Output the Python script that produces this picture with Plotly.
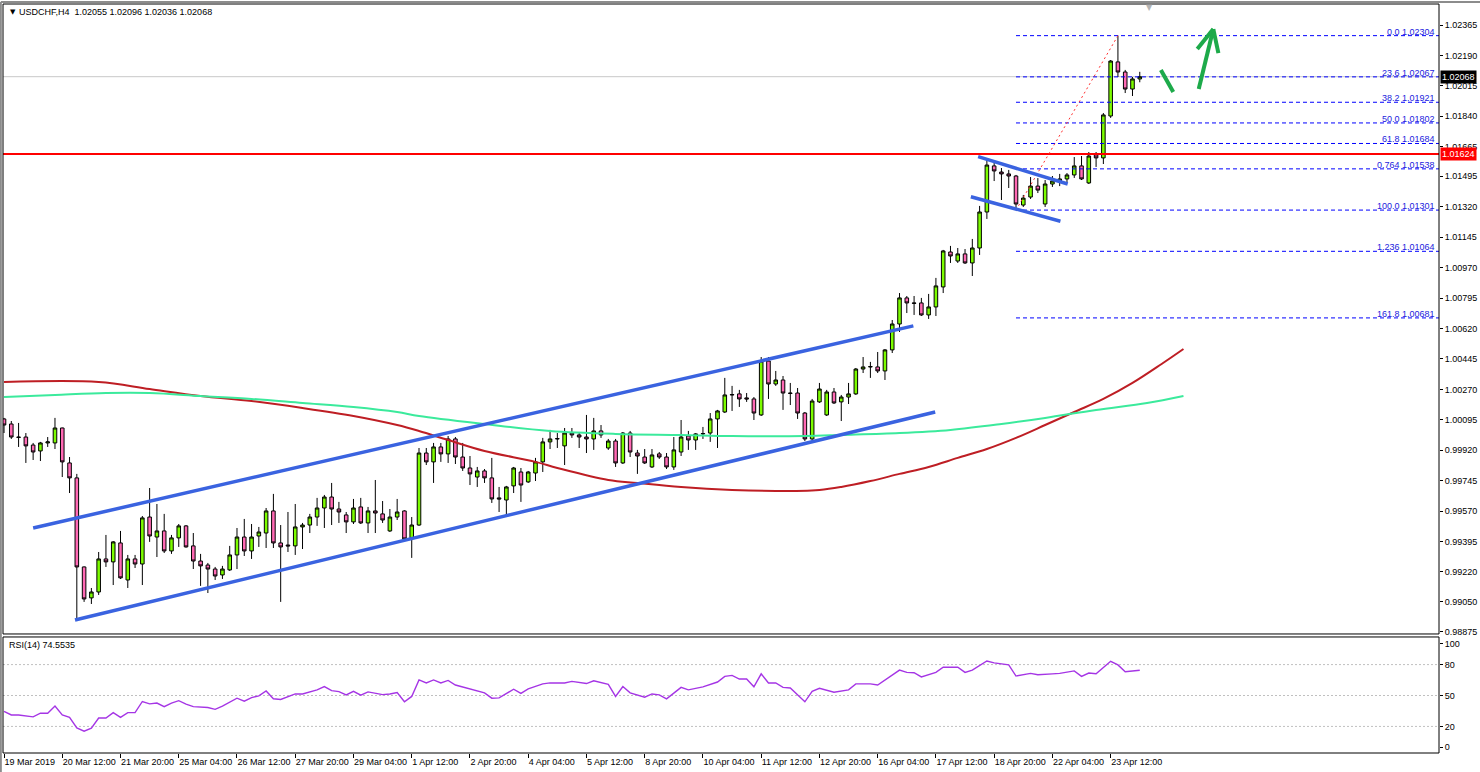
import plotly.graph_objects as go

# ---------------- data ----------------
bars = list(range(157))
open_ = [1.00100,1.00071,0.99996,0.99996,0.99950,0.99916,0.99962,0.99962,1.00048,0.99847,
         0.99761,0.99249,0.99071,0.99105,0.99295,0.99278,0.99387,0.99174,0.99295,0.99266,
         0.99536,0.99421,0.99456,0.99341,0.99416,0.99485,0.99370,0.99283,0.99260,0.99237,
         0.99203,0.99232,0.99318,0.99421,0.99341,0.99427,0.99444,0.99571,0.99387,0.99375,
         0.99370,0.99479,0.99490,0.99536,0.99588,0.99651,0.99582,0.99548,0.99508,0.99594,
         0.99502,0.99571,0.99554,0.99456,0.99536,0.99571,0.99416,0.99490,0.99904,0.99853,
         0.99939,0.99899,0.99985,0.99881,0.99818,0.99766,0.99801,0.99761,0.99646,0.99634,
         0.99715,0.99795,0.99738,0.99789,0.99853,0.99968,0.99985,0.99945,1.00019,1.00008,
         0.99996,0.99985,1.00031,0.99933,0.99973,0.99847,1.00019,0.99904,0.99881,0.99824,
         0.99899,0.99881,0.99824,0.99910,1.00002,0.99979,1.00014,1.00019,1.00100,1.00140,
         1.00238,1.00244,1.00221,1.00215,1.00123,1.00433,1.00301,1.00324,1.00249,1.00249,
         1.00134,0.99985,1.00198,1.00123,1.00255,1.00198,1.00226,1.00244,1.00387,1.00399,
         1.00399,1.00376,1.00497,1.00646,1.00796,1.00767,1.00767,1.00698,1.00744,1.00859,
         1.01060,1.01008,1.01049,1.00997,1.01083,1.01290,1.01555,1.01520,1.01509,1.01497,
         1.01330,1.01376,1.01439,1.01336,1.01451,1.01468,1.01480,1.01503,1.01555,1.01457,
         1.01618,1.01601,1.01842,1.02153,1.02095,1.01997,1.02055]
high = [1.00106,1.00088,1.00077,1.00019,0.99962,0.99968,0.99996,1.00106,1.00050,0.99881,
        0.99784,0.99252,0.99128,0.99335,0.99433,0.99398,0.99456,0.99318,0.99318,0.99542,
        0.99703,0.99611,0.99554,0.99433,0.99496,0.99490,0.99444,0.99324,0.99272,0.99249,
        0.99255,0.99370,0.99473,0.99525,0.99496,0.99479,0.99588,0.99669,0.99490,0.99565,
        0.99611,0.99502,0.99554,0.99646,0.99663,0.99732,0.99623,0.99565,0.99640,0.99646,
        0.99594,0.99749,0.99628,0.99582,0.99640,0.99575,0.99536,0.99933,0.99933,0.99962,
        0.99962,1.00002,0.99996,0.99962,0.99887,0.99824,0.99812,0.99876,0.99709,0.99715,
        0.99824,0.99818,0.99801,0.99876,0.99991,1.00037,1.00019,1.00048,1.00048,1.00025,
        1.00123,1.00106,1.00065,0.99985,0.99985,1.00025,1.00031,0.99922,0.99927,0.99927,
        0.99910,0.99904,0.99996,1.00094,1.00031,1.00019,1.00054,1.00134,1.00152,1.00336,
        1.00290,1.00267,1.00249,1.00226,1.00456,1.00456,1.00376,1.00347,1.00307,1.00278,
        1.00140,1.00215,1.00307,1.00267,1.00278,1.00238,1.00307,1.00393,1.00456,1.00428,
        1.00485,1.00502,1.00669,1.00824,1.00807,1.00807,1.00796,1.00819,1.00911,1.01072,
        1.01095,1.01083,1.01077,1.01135,1.01325,1.01595,1.01589,1.01543,1.01532,1.01503,
        1.01388,1.01491,1.01485,1.01474,1.01497,1.01509,1.01514,1.01606,1.01612,1.01635,
        1.01635,1.01859,1.02164,1.02304,1.02107,1.02066,1.02096]
low = [1.00019,0.99985,0.99939,0.99847,0.99864,0.99858,0.99939,0.99927,0.99766,0.99674,
       0.98944,0.99048,0.99036,0.99088,0.99249,0.99145,0.99180,0.99128,0.99243,0.99145,
       0.99393,0.99306,0.99329,0.99324,0.99364,0.99360,0.99237,0.99140,0.99099,0.99174,
       0.99180,0.99226,0.99237,0.99312,0.99295,0.99364,0.99358,0.99358,0.99048,0.99335,
       0.99318,0.99352,0.99444,0.99485,0.99473,0.99490,0.99502,0.99444,0.99496,0.99496,
       0.99444,0.99444,0.99502,0.99450,0.99519,0.99404,0.99301,0.99485,0.99835,0.99732,
       0.99853,0.99847,0.99841,0.99801,0.99720,0.99709,0.99732,0.99617,0.99565,0.99548,
       0.99674,0.99623,0.99732,0.99743,0.99795,0.99927,0.99933,0.99835,0.99991,0.99933,
       0.99904,0.99922,0.99991,0.99922,0.99824,0.99841,0.99881,0.99784,0.99841,0.99818,
       0.99870,0.99812,0.99807,0.99887,0.99922,0.99922,0.99985,0.99968,0.99933,1.00134,
       1.00146,1.00169,1.00198,1.00094,1.00117,1.00215,1.00290,1.00152,1.00180,1.00100,
       0.99973,0.99979,1.00192,1.00117,1.00186,1.00088,1.00186,1.00238,1.00364,1.00336,
       1.00364,1.00324,1.00479,1.00600,1.00709,1.00698,1.00692,1.00675,1.00692,1.00824,
       1.00997,1.00997,1.00991,1.00922,1.01043,1.01250,1.01468,1.01359,1.01428,1.01301,
       1.01319,1.01365,1.01399,1.01319,1.01434,1.01439,1.01457,1.01486,1.01474,1.01451,
       1.01549,1.01566,1.01831,1.02066,1.01974,1.01957,1.02036]
close = [1.00065,0.99996,0.99994,0.99945,0.99910,0.99962,0.99968,1.00048,0.99853,0.99761,
         0.99249,0.99065,0.99105,0.99295,0.99278,0.99393,0.99186,0.99295,0.99266,0.99531,
         0.99427,0.99456,0.99341,0.99416,0.99485,0.99364,0.99283,0.99255,0.99237,0.99197,
         0.99237,0.99318,0.99421,0.99341,0.99421,0.99450,0.99571,0.99387,0.99364,0.99370,
         0.99479,0.99490,0.99536,0.99588,0.99651,0.99582,0.99565,0.99508,0.99588,0.99502,
         0.99571,0.99559,0.99519,0.99536,0.99565,0.99410,0.99490,0.99904,0.99853,0.99939,
         0.99899,0.99985,0.99881,0.99818,0.99784,0.99801,0.99761,0.99640,0.99640,0.99709,
         0.99818,0.99720,0.99795,0.99853,0.99968,0.99985,0.99987,1.00019,1.00008,0.99996,
         0.99985,1.00031,1.00008,0.99973,0.99847,1.00019,0.99910,0.99887,0.99847,0.99893,
         0.99881,0.99824,0.99922,0.99996,0.99979,1.00014,1.00016,1.00100,1.00146,1.00238,
         1.00240,1.00215,1.00215,1.00134,1.00433,1.00301,1.00324,1.00249,1.00247,1.00134,
         0.99985,1.00203,1.00272,1.00255,1.00192,1.00226,1.00244,1.00387,1.00399,1.00401,
         1.00376,1.00497,1.00646,1.00796,1.00767,1.00765,1.00698,1.00744,1.00865,1.01066,
         1.01037,1.01049,1.00997,1.01083,1.01290,1.01560,1.01526,1.01509,1.01497,1.01336,
         1.01370,1.01439,1.01416,1.01451,1.01468,1.01480,1.01503,1.01555,1.01480,1.01612,
         1.01601,1.01848,1.02158,1.02095,1.01997,1.02055,1.02068]

red_ma_bar = [0,13,20,27,34,41,48,54,57,61,66,73,76,83,87,93,100,106,112,115,119,123,127,
              131,135,139,143,147,151,155,159,162]
red_ma = [1.00313,1.00313,1.00272,1.00232,1.00203,1.00163,1.00117,1.00065,1.00031,0.99979,
          0.99916,0.99853,0.99818,0.99749,0.99732,0.99709,0.99692,0.99686,0.99692,0.99709,
          0.99743,0.99784,0.99824,0.99876,0.99927,0.99991,1.00065,1.00140,1.00215,1.00307,
          1.00416,1.00502]
green_ma_bar = [0,7,14,20,27,34,41,48,54,57,66,75,84,93,100,110,115,123,130,137,143,150,157,162]
green_ma = [1.00226,1.00238,1.00249,1.00249,1.00232,1.00215,1.00192,1.00169,1.00140,1.00117,
            1.00071,1.00031,1.00014,1.00008,1.00002,1.00002,1.00008,1.00019,1.00037,1.00071,
            1.00106,1.00152,1.00192,1.00232]

rsi_bar = [0,1,2,4,5,6,7,8,9,10,11,12,13,14,15,16,17,18,19,20,21,22,23,24,25,26,28,29,30,32,
           33,34,35,36,37,38,40,41,43,44,45,46,47,48,49,50,52,53,54,55,56,57,58,59,60,61,62,
           64,65,66,67,68,70,71,72,74,75,77,78,79,80,81,82,83,84,85,86,88,89,90,91,93,94,96,
           98,99,100,101,102,103,104,105,106,107,108,110,111,112,114,116,117,119,120,123,124,
           125,126,128,129,130,131,132,133,135,136,138,139,141,142,144,145,147,148,149,150,
           152,153,154,155,156]
rsi = [34.6,31.1,31.1,29.3,32.8,32.8,39.8,31.1,28.8,18.6,15.4,18.3,28.2,28.2,33.4,28.8,33.4,
       33.4,44.2,41.9,42.7,39.2,42.7,45.0,41.6,39.2,38.4,36.6,39.8,47.4,44.5,48.0,49.7,54.4,
       46.8,46.2,51.5,51.5,55.5,58.7,54.7,53.8,50.6,54.1,50.3,53.5,50.9,51.5,52.9,43.9,49.1,
       65.1,62.2,65.1,62.2,64.6,60.2,56.4,55.2,52.6,47.4,47.7,56.1,52.0,56.4,61.3,62.2,62.2,
       63.7,62.8,61.6,64.3,62.2,60.8,49.1,58.7,52.6,48.3,51.5,50.6,46.8,57.9,55.5,58.4,63.1,
       68.6,69.5,66.0,66.0,58.4,71.0,62.2,62.2,57.9,57.3,43.9,54.1,57.0,53.2,55.5,61.3,61.3,
       60.2,74.7,72.4,72.1,68.0,72.4,77.4,77.4,77.4,72.4,74.7,83.5,81.7,79.7,68.9,71.5,70.1,
       71.0,71.5,73.9,68.6,71.8,71.2,83.2,79.7,73.0,73.9,74.5535]

tick_bars = [0,8,16,24,32,40,48,56,64,72,80,88,96,104,112,120,128,136,144,152]
tick_text = ["19 Mar 2019","20 Mar 12:00","21 Mar 20:00","25 Mar 04:00","26 Mar 12:00",
             "27 Mar 20:00","29 Mar 04:00","1 Apr 12:00","2 Apr 20:00","4 Apr 04:00",
             "5 Apr 12:00","8 Apr 20:00","10 Apr 04:00","11 Apr 12:00","12 Apr 20:00",
             "16 Apr 04:00","17 Apr 12:00","18 Apr 20:00","22 Apr 04:00","23 Apr 12:00"]
price_ticks = [1.02365,1.02190,1.02015,1.01840,1.01665,1.01495,1.01320,1.01145,1.00970,
               1.00795,1.00620,1.00445,1.00270,1.00095,0.99920,0.99745,0.99570,0.99395,
               0.99220,0.99050,0.98875]
rsi_ticks = [0,20,50,80,100]
rsi_levels = [20,50,80]

fib_names = ["0.0","23.6","38.2","50.0","61.8","0.764","100.0","1.236","161.8"]
fib_values = [1.02304,1.02067,1.01921,1.01802,1.01684,1.01538,1.01301,1.01064,1.00681]
fib_start_bar = 139
fib_anchor_bars = [139,153]
fib_anchor_prices = [1.01301,1.02304]

resistance = 1.01624
last_price = 1.02068
header = "USDCHF,H4  1.02055 1.02096 1.02036 1.02068"
rsi_header = "RSI(14) 74.5535"

# channel and flag trend lines: (bar0, price0, bar1, price1)
channel_lower = (9.75, 0.98944, 127.9, 1.00140)
channel_upper = (4.0, 0.99473, 124.9, 1.00635)
flag_upper = (133.8, 1.01608, 146.1, 1.01451)
flag_lower = (132.8, 1.01378, 145.1, 1.01237)
# hand-drawn green marks
green_stroke = (158.9, 1.02107, 160.6, 1.01980)
green_arrow = (164.1, 1.01997, 166.1, 1.02342)
arrow_barb_left = (163.9, 1.02227)
arrow_barb_right = (166.8, 1.02204)

# ---------------- figure ----------------
FONT = "Liberation Sans, Arial, sans-serif"
X_RANGE = [-0.14, 197.1]
MAIN_DOM = [0.1589, 1.0]
RSI_DOM = [0.0, 0.1549]

fig = go.Figure()
fig.add_trace(go.Candlestick(
    x=bars, open=open_, high=high, low=low, close=close,
    increasing=dict(fillcolor="#7CFC00", line=dict(color="#000000", width=1)),
    decreasing=dict(fillcolor="#FF69B4", line=dict(color="#000000", width=1)),
    whiskerwidth=0, hoverinfo="skip", showlegend=False, xaxis="x", yaxis="y"))
fig.add_trace(go.Scatter(x=red_ma_bar, y=red_ma, mode="lines",
                         line=dict(color="#BE1E24", width=2, shape="spline", smoothing=1.0),
                         hoverinfo="skip", showlegend=False, xaxis="x", yaxis="y"))
fig.add_trace(go.Scatter(x=green_ma_bar, y=green_ma, mode="lines",
                         line=dict(color="#3BEA9C", width=2, shape="spline", smoothing=1.0),
                         hoverinfo="skip", showlegend=False, xaxis="x", yaxis="y"))
fig.add_trace(go.Scatter(x=rsi_bar, y=rsi, mode="lines",
                         line=dict(color="#A535E5", width=1.4),
                         hoverinfo="skip", showlegend=False, xaxis="x2", yaxis="y2"))

shapes = []
shapes.append(dict(type="line", xref="paper", yref="y", x0=0, x1=1, y0=last_price, y1=last_price,
                   line=dict(color="#C8C8C8", width=1), layer="below"))
shapes.append(dict(type="line", xref="paper", yref="y", x0=0, x1=1, y0=resistance, y1=resistance,
                   line=dict(color="#FF0000", width=2)))
for v in fib_values:
    shapes.append(dict(type="line", xref="x", yref="y", x0=fib_start_bar, x1=X_RANGE[1],
                       y0=v, y1=v, line=dict(color="#0000FF", width=1, dash="4px,3px")))
shapes.append(dict(type="line", xref="x", yref="y", x0=fib_anchor_bars[0], x1=fib_anchor_bars[1],
                   y0=fib_anchor_prices[0], y1=fib_anchor_prices[1],
                   line=dict(color="#FF3030", width=1, dash="2px,3px")))
for ln in (channel_lower, channel_upper, flag_upper, flag_lower):
    shapes.append(dict(type="line", xref="x", yref="y", x0=ln[0], y0=ln[1], x1=ln[2], y1=ln[3],
                       line=dict(color="#3A63E0", width=3.5)))
for ln in (green_stroke, green_arrow):
    shapes.append(dict(type="line", xref="x", yref="y", x0=ln[0], y0=ln[1], x1=ln[2], y1=ln[3],
                       line=dict(color="#1DAA4A", width=4)))
for b in (arrow_barb_left, arrow_barb_right):
    shapes.append(dict(type="line", xref="x", yref="y", x0=b[0], y0=b[1],
                       x1=green_arrow[2], y1=green_arrow[3],
                       line=dict(color="#1DAA4A", width=4)))
for lv in rsi_levels:
    shapes.append(dict(type="line", xref="paper", yref="y2", x0=0, x1=1, y0=lv, y1=lv,
                       line=dict(color="#C0C0C0", width=1, dash="2px,2px"), layer="below"))
shapes.append(dict(type="rect", xref="paper", yref="paper", x0=0, x1=1, y0=MAIN_DOM[0], y1=MAIN_DOM[1],
                   line=dict(color="#000000", width=1)))
shapes.append(dict(type="rect", xref="paper", yref="paper", x0=0, x1=1, y0=RSI_DOM[0], y1=RSI_DOM[1],
                   line=dict(color="#000000", width=1)))
shapes.append(dict(type="line", xref="paper", yref="paper", x0=-0.0015, x1=1.03, y0=1.0027, y1=1.0027,
                   line=dict(color="#8C8C8C", width=2)))
shapes.append(dict(type="line", xref="paper", yref="paper", x0=-0.0015, x1=-0.0015, y0=-0.03, y1=1.0027,
                   line=dict(color="#8C8C8C", width=2)))

annotations = []
for name, v in zip(fib_names, fib_values):
    annotations.append(dict(x=0.9986, xref="paper", y=v, yref="y", xanchor="right", yanchor="bottom",
                            text=f"{name} {v:.5f}", showarrow=False, yshift=-3,
                            font=dict(family=FONT, size=9, color="#2222DD")))
annotations.append(dict(x=1.0, xref="paper", y=last_price, yref="y", xanchor="left", yanchor="middle",
                        text=f"{last_price:.5f}", showarrow=False, xshift=1, bgcolor="#000000",
                        borderpad=1, font=dict(family=FONT, size=9, color="#FFFFFF")))
annotations.append(dict(x=1.0, xref="paper", y=resistance, yref="y", xanchor="left", yanchor="middle",
                        text=f"{resistance:.5f}", showarrow=False, xshift=1, bgcolor="#FF0000",
                        borderpad=1, font=dict(family=FONT, size=9, color="#FFFFFF")))
annotations.append(dict(x=0.0035, xref="paper", y=0.9893, yref="paper", xanchor="left", yanchor="middle",
                        text="▼", showarrow=False, font=dict(family="DejaVu Sans", size=7, color="#000000")))
annotations.append(dict(x=0.0098, xref="paper", y=0.9893, yref="paper", xanchor="left", yanchor="middle",
                        text=header, showarrow=False, font=dict(family=FONT, size=9, color="#000000")))
annotations.append(dict(x=0.003, xref="paper", y=0.1437, yref="paper", xanchor="left", yanchor="middle",
                        text=rsi_header, showarrow=False, font=dict(family=FONT, size=9, color="#000000")))
annotations.append(dict(x=0.7987, xref="paper", y=1.004, yref="paper", xanchor="center", yanchor="top",
                        text="▼", showarrow=False, font=dict(family="DejaVu Sans", size=8, color="#B4B4B4")))

fig.update_layout(
    width=1480, height=772,
    margin=dict(l=3, r=41, t=4, b=19, autoexpand=False),
    paper_bgcolor="#FFFFFF", plot_bgcolor="#FFFFFF",
    font=dict(family=FONT, size=9, color="#000000"),
    showlegend=False,
    shapes=shapes, annotations=annotations,
    xaxis=dict(domain=[0, 1], range=X_RANGE, anchor="y", showticklabels=False, showgrid=False,
               zeroline=False, rangeslider=dict(visible=False), ticks="", automargin=False),
    xaxis2=dict(domain=[0, 1], range=X_RANGE, anchor="y2", matches="x", showgrid=False, zeroline=False,
                tickvals=tick_bars, ticktext=tick_text, ticks="outside", ticklen=4, tickcolor="#000000",
                tickangle=0, automargin=False,
                ticklabelposition="outside right", tickfont=dict(family=FONT, size=9, color="#000000")),
    yaxis=dict(domain=MAIN_DOM, range=[0.988635, 1.02486], side="right", anchor="x", showgrid=False,
               zeroline=False, tickvals=price_ticks, ticktext=[f"{p:.5f}" for p in price_ticks],
               ticks="outside", ticklen=3, tickcolor="#000000", automargin=False,
               tickfont=dict(family=FONT, size=9, color="#000000")),
    yaxis2=dict(domain=RSI_DOM, range=[-5.8, 106.8], side="right", anchor="x2", showgrid=False,
                zeroline=False, tickvals=rsi_ticks, ticktext=[str(t) for t in rsi_ticks],
                ticks="outside", ticklen=3, tickcolor="#000000", automargin=False,
                tickfont=dict(family=FONT, size=9, color="#000000")),
)

fig.write_html("out.html", config={"displayModeBar": False},
               post_script="document.body.style.margin='0';document.body.style.padding='0';"
                           "document.body.style.overflow='hidden';")
